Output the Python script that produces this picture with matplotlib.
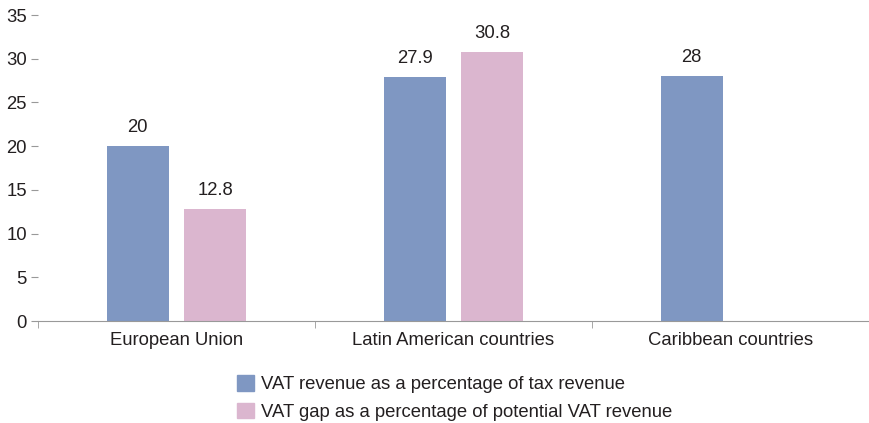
import numpy as np
import matplotlib.pyplot as plt
from matplotlib.patches import Patch

categories=["European Union","Latin American countries","Caribbean countries"]
vat_revenue=[20,27.9,28]
vat_gap=[12.8,30.8,np.nan]
series_names=["VAT revenue as a percentage of tax revenue","VAT gap as a percentage of potential VAT revenue"]
colors=["#7f97c2","#dbb6cf"]

plt.rcParams['font.family']=['Liberation Sans Narrow','Liberation Sans','DejaVu Sans']
plt.rcParams['text.color']='#231f20'
fs=13.3

fig=plt.figure(figsize=(8.7,4.23),dpi=100)
ax=fig.add_axes([38/870,1-321/423,831/870,306/423])

x=np.arange(len(categories))
w=0.225
off=0.14
b1=ax.bar(x-off,vat_revenue,w,color=colors[0])
b2=ax.bar(x+off,vat_gap,w,color=colors[1])

for bars,vals in [(b1,vat_revenue),(b2,vat_gap)]:
    for b,v in zip(bars,vals):
        if np.isnan(v):
            continue
        ax.annotate(f"{v:g}",(b.get_x()+b.get_width()/2,v),xytext=(0,7),
                    textcoords="offset points",ha="center",va="bottom",fontsize=fs)

ax.set_xlim(-0.5,2.5)
ax.set_ylim(0,35)
ax.set_yticks(range(0,36,5))
ax.set_xticks(x)
ax.set_xticklabels(categories,fontsize=fs)
ax.set_xticks([-0.5,0.5,1.5,2.5],minor=True)
ax.tick_params(axis="x",which="major",length=0,pad=8)
ax.tick_params(axis="x",which="minor",length=5,color="#999999",direction="out")
ax.tick_params(axis="y",length=5,color="#999999",labelsize=fs,pad=3,labelcolor="#231f20")
ax.tick_params(axis="x",labelcolor="#231f20")
for s in ["top","right","left"]:
    ax.spines[s].set_visible(False)
ax.spines["bottom"].set_color("#999999")

handles=[Patch(color=c) for c in colors]
fig.legend(handles,series_names,loc="upper left",bbox_to_anchor=(230/870,1-368/423),
           frameon=False,fontsize=fs,handlelength=0.9,handleheight=0.9,
           handletextpad=0.4,labelspacing=0.5,borderaxespad=0)

plt.savefig("out.png")
